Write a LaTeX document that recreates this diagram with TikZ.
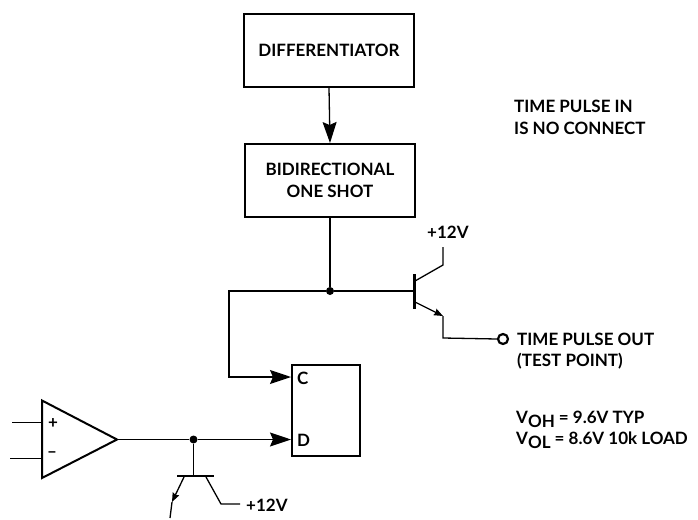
\documentclass[tikz,border=0pt]{standalone}
\usepackage{fontspec}
\setmainfont{Lato}[BoldFont={Lato Bold}]
\usetikzlibrary{arrows.meta}
\tikzset{
  x=1pt,y=-1pt,
  wire/.style={line width=1.3pt,line join=miter},
  boxn/.style={draw,line width=2pt,inner sep=0pt,align=center,font=\lbl},
  big/.style={wire,-{Stealth[length=21pt,width=14pt,inset=3pt]}},
  small/.style={wire,-{Stealth[length=9pt,width=7pt,inset=1pt]}},
  lab/.style={inner sep=0pt,anchor=base west,font=\lbl},
  dotn/.style={circle,fill,inner sep=0pt,minimum size=8pt}
}
\newcommand{\lbl}{\bfseries\fontsize{17}{21}\selectfont}
\newcommand{\subs}[1]{\raisebox{-4pt}{#1}}
\begin{document}
\begin{tikzpicture}
\useasboundingbox (0,0) rectangle (698,519);
% boxes
\node[boxn,minimum width=170pt,minimum height=73pt] (diff) at (329,50.5) {DIFFERENTIATOR};
\node[boxn,minimum width=170pt,minimum height=73pt,align=center] (bid) at (330,180.5) {BIDIRECTIONAL\\[1pt]ONE SHOT};
\node[boxn,minimum width=68pt,minimum height=91pt] (ff) at (326,410.5) {};
\node[lab] (cl) at (297,384) {C};
\node[lab] (dl) at (297,446) {D};
% top connections
\draw[big] (diff.south) -- (bid.north);
\node[dotn] (j1) at (330,291) {};
\draw[wire] (bid.south) -- (j1);
\coordinate (cin) at (ff.west |- 0,377);
\coordinate (c1) at (229,291);
\draw[big] (j1) -- (c1) |- (cin);
% NPN transistor
\coordinate (qb) at (414.5,291);
\coordinate (qbt) at (414.5,274);
\coordinate (qbb) at (414.5,309);
\draw[line width=2.6pt] (qbt) -- (qbb);
\draw[wire] (j1) -- (qb);
\coordinate (qc0) at (415,281);
\coordinate (qc1) at (443,265);
\coordinate (qc2) at (443,247);
\draw[wire] (qc0) -- (qc1) -- (qc2);
\coordinate (qe0) at (415,302);
\coordinate (qe1) at (443,316);
\coordinate (qe2) at (443,338);
\draw[small] (qe0) -- (qe1);
\node[circle,draw,line width=2.2pt,inner sep=0pt,minimum size=10pt] (tp) at (503,339) {};
\draw[wire] (qe1) -- (qe2) -- (tp.west);
% op-amp
\coordinate (o1) at (42,400.5);
\coordinate (o2) at (42,478);
\coordinate (o3) at (117,439.5);
\draw[line width=2pt,line join=miter] (o1) -- (o2) -- (o3) -- cycle;
\coordinate (i1) at (12,422);
\coordinate (i1e) at (42,422);
\coordinate (i2) at (10,458);
\coordinate (i2e) at (42,458);
\draw[line width=.9pt] (i1) -- (i1e);
\draw[line width=.9pt] (i2) -- (i2e);
\node[lab,anchor=center,font=\bfseries\fontsize{17}{17}\selectfont] (pl) at (53,424) {+};
\node[lab,anchor=center,font=\bfseries\fontsize{17}{17}\selectfont] (mi) at (52,455) {--};
\coordinate (din) at (ff.west |- 0,439.5);
\node[dotn] (j2) at (193.5,439.5) {};
\draw[wire] (o3) -- (j2);
\draw[big] (j2) -- (din);
% lower transistor
\coordinate (lb) at (193.5,476);
\draw[wire] (j2) -- (lb);
\coordinate (lbl1) at (177,476);
\coordinate (lbl2) at (214,476);
\draw[line width=2.6pt] (lbl1) -- (lbl2);
\coordinate (le0) at (184,477);
\coordinate (le1) at (172,502);
\coordinate (le2) at (170,518);
\draw[small] (le0) -- (le1);
\draw[wire] (le1) -- (le2);
\coordinate (lc0) at (206,477);
\coordinate (lc1) at (221,504);
\coordinate (lc2) at (240,504);
\draw[wire] (lc0) -- (lc1) -- (lc2);
% labels
\node[lab] (v1) at (246,511) {+12V};
\node[lab] (v2) at (427,238) {+12V};
\node[lab] (t1) at (514,112.5) {TIME PULSE IN};
\node[lab] (t2) at (514,134) {IS NO CONNECT};
\node[lab] (t3) at (517,345) {TIME PULSE OUT};
\node[lab] (t4) at (517,366) {(TEST POINT)};
\node[lab] (t5) at (516,423) {V\subs{OH} = 9.6V TYP};
\node[lab] (t6) at (516,444) {V\subs{OL} = 8.6V 10k LOAD};
\end{tikzpicture}
\end{document}
